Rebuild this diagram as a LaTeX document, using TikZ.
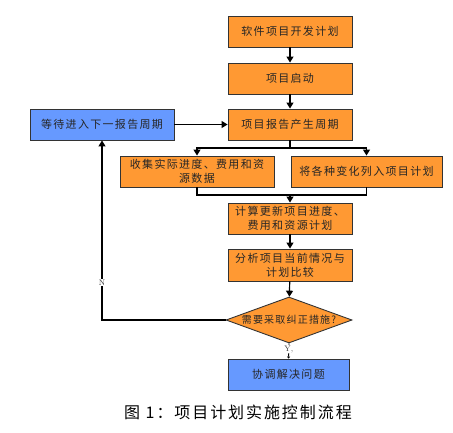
\documentclass[tikz,border=0pt]{standalone}
\usepackage{fontspec}
\newfontfamily\cjk{Noto Sans CJK SC}
\newfontfamily\cjksp[LetterSpace=12]{Noto Sans CJK SC}
\usetikzlibrary{shapes.geometric,arrows.meta}
\definecolor{boxorange}{RGB}{255,153,51}
\definecolor{boxblue}{RGB}{102,153,255}
\tikzset{
  proc/.style={draw=black!80, line width=0.9pt, fill=boxorange, minimum width=124pt, minimum height=31pt, inner sep=1pt, align=center, font=\cjksp\fontsize{11}{14}\selectfont, text=black!85},
  bluebox/.style={proc, fill=boxblue},
  decide/.style={diamond, draw=black!80, line width=0.9pt, fill=boxorange, minimum width=126pt, minimum height=46pt, inner sep=0pt, aspect=2.7, font=\cjksp\fontsize{10}{11}\selectfont, text=black!85},
  link/.style={draw=black, line width=1.2pt},
  arr/.style={link, -{Triangle[width=7pt,length=6pt]}},
  lbl/.style={font=\fontsize{8}{9}\selectfont, fill=white, inner sep=0.5pt, text=black!80}
}
\begin{document}
\begin{tikzpicture}[x=1pt,y=-1pt]
\useasboundingbox (0,0) rectangle (453,433);
\node[proc] (b1) at (290,31.5) {软件项目开发计划};
\node[proc] (b2) at (290,78.5) {项目启动};
\node[proc] (b3) at (290,124.5) {项目报告产生周期};
\node[bluebox, minimum width=144pt] (wait) at (102,124.5) {等待进入下一报告周期};
\node[proc, minimum width=154pt] (b4) at (197,171.5) {收集实际进度、费用和资\\源数据};
\node[proc, minimum width=151pt] (b5) at (366.5,171.5) {将各种变化列入项目计划};
\node[proc] (b6) at (290,218.5) {计算更新项目进度、\\费用和资源计划};
\node[proc, minimum height=32pt] (b7) at (290,265) {分析项目当前情况与\\计划比较};
\node[decide] (d) at (289,320) {需要采取纠正措施?};
\node[bluebox, minimum width=121pt] (b8) at (288.5,374.5) {协调解决问题};
\node[font=\cjksp\fontsize{16}{18}\selectfont] (cap) at (238,412) {图 1：项目计划实施控制流程};
\coordinate (sp) at (290,148);
\coordinate (mg) at (290,195);
\draw[arr] (b1) -- (b2);
\draw[arr] (b2) -- (b3);
\draw[arr] (wait) -- (b3);
\draw[link] (b3) -- (sp);
\draw[arr] (sp) -| (b4.north);
\draw[arr] (sp) -| (b5.north);
\draw[link] (b4.south) |- (mg) -| (b5.south);
\draw[arr] (mg) -- (b6);
\draw[arr] (b6) -- (b7);
\draw[arr] (b7) -- (d);
\draw[arr] (d.west) -| node[lbl, pos=0.605] {N} (wait.south);
\draw[link, -{Triangle[width=3pt,length=2pt]}, line width=0.8pt] (d.south) -- node[lbl, pos=0.4] {Y,} (b8.north);
\end{tikzpicture}
\end{document}
